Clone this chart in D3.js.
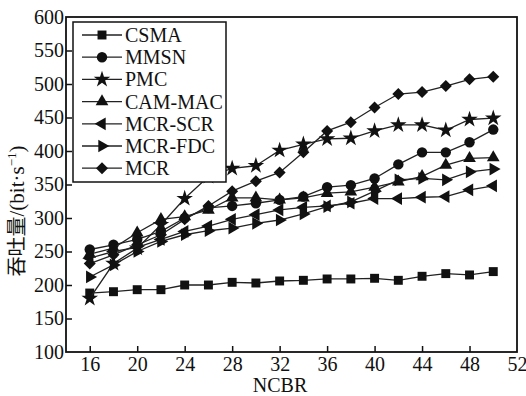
<!DOCTYPE html>
<html>
<head>
<meta charset="utf-8">
<script src="https://cdn.jsdelivr.net/npm/d3@7/dist/d3.min.js"></script>
<style>
  body { margin: 0; background: #fff; }
  text { font-family: "Liberation Serif", "DejaVu Serif", serif; fill: #111; }
</style>
</head>
<body>
<svg id="chart" width="526" height="396"></svg>
<script>
// data
var ncbr = [16, 18, 20, 22, 24, 26, 28, 30, 32, 34, 36, 38, 40, 42, 44, 46, 48, 50];
var seriesNames = ["CSMA", "MMSN", "PMC", "CAM-MAC", "MCR-SCR", "MCR-FDC", "MCR"];
var csma   = [188, 190, 193, 193, 200, 200, 204, 203, 206, 207, 209, 209, 210, 207, 213, 217, 215, 220];
var mmsn   = [253, 260, 268, 280, 300, 315, 318, 322, 327, 332, 346, 349, 359, 380, 398, 398, 413, 432];
var pmc    = [180, 232, 255, 290, 329, 362, 374, 378, 401, 410, 418, 419, 430, 439, 439, 431, 447, 449];
var cammac = [246, 255, 278, 298, 302, 312, 330, 330, 327, 330, 337, 339, 346, 354, 362, 379, 389, 390];
var mcrscr = [240, 250, 256, 268, 280, 288, 298, 305, 312, 316, 318, 322, 329, 329, 331, 332, 342, 348];
var mcrfdc = [212, 230, 250, 265, 275, 281, 285, 292, 297, 306, 317, 324, 340, 357, 359, 357, 369, 373];
var mcr    = [232, 245, 260, 275, 298, 318, 340, 355, 368, 398, 430, 443, 465, 485, 488, 497, 507, 511];
var xTicks = [16, 20, 24, 28, 32, 36, 40, 44, 48, 52];
var yTicks = [100, 150, 200, 250, 300, 350, 400, 450, 500, 550, 600];

var allSeries = [csma, mmsn, pmc, cammac, mcrscr, mcrfdc, mcr];

var pLeft = 66, pRight = 517, pTop = 17, pBottom = 352;

var svg = d3.select("#chart");

var x = d3.scaleLinear().domain([14, 52]).range([pLeft, pRight]);
var y = d3.scaleLinear().domain([100, 600]).range([pBottom, pTop]);

// marker shapes
var sq = d3.symbol().type(d3.symbolSquare).size(80)();
var circ = d3.symbol().type(d3.symbolCircle).size(85)();
var star = d3.symbol().type(d3.symbolStar).size(85)();
var tri = d3.symbol().type(d3.symbolTriangle).size(70)();
var diam = d3.symbol().type(d3.symbolSquare).size(72)();
var shapes = [
  { d: sq, rot: 0 },
  { d: circ, rot: 0 },
  { d: star, rot: 0 },
  { d: tri, rot: 0 },
  { d: tri, rot: -90 },
  { d: tri, rot: 90 },
  { d: diam, rot: 45 }
];

var line = d3.line()
  .x(function(d, i) { return x(ncbr[i]); })
  .y(function(d) { return y(d); });

var plot = svg.append("g");

allSeries.forEach(function(vals, k) {
  plot.append("path")
    .attr("d", line(vals))
    .attr("fill", "none")
    .attr("stroke", "#222")
    .attr("stroke-width", 1.3);
  plot.selectAll(".m" + k)
    .data(vals)
    .enter()
    .append("path")
    .attr("d", shapes[k].d)
    .attr("fill", "#111")
    .attr("transform", function(d, i) {
      return "translate(" + x(ncbr[i]) + "," + y(d) + ") rotate(" + shapes[k].rot + ")";
    });
});

// axes (ticks inward)
var xAxis = d3.axisBottom(x).tickValues(xTicks).tickSizeInner(-6).tickSizeOuter(0).tickPadding(5);
var gx = svg.append("g").attr("transform", "translate(0," + pBottom + ")").call(xAxis);
gx.selectAll(".tick line").filter(function(d) { return d === 52; }).remove();

var yAxis = d3.axisLeft(y).tickValues(yTicks).tickSizeInner(-6).tickSizeOuter(0).tickPadding(2);
var gy = svg.append("g").attr("transform", "translate(" + pLeft + ",0)").call(yAxis);
gy.selectAll(".tick line").filter(function(d) { return d === 100 || d === 600; }).remove();

[gx, gy].forEach(function(g) {
  g.select(".domain").remove();
  g.selectAll("line").attr("stroke", "#111").attr("stroke-width", 1.5);
  g.selectAll("text").attr("font-size", 20).attr("font-family", "Liberation Serif").attr("fill", "#111");
});
gx.selectAll("text").attr("dy", "0.71em");

// frame
svg.append("rect")
  .attr("x", pLeft).attr("y", pTop)
  .attr("width", pRight - pLeft).attr("height", pBottom - pTop)
  .attr("fill", "none").attr("stroke", "#111").attr("stroke-width", 1.8);

// axis titles
svg.append("text")
  .attr("x", 280).attr("y", 392)
  .attr("text-anchor", "middle").attr("font-size", 20)
  .text("NCBR");

var yl = svg.append("text")
  .attr("transform", "translate(24,211) rotate(-90)")
  .attr("text-anchor", "middle").attr("font-size", 21);
yl.append("tspan").attr("font-family", "Noto Sans CJK SC").attr("font-size", 20).text("吞吐量");
yl.append("tspan").text("/(bit·s");
yl.append("tspan").attr("font-size", 13).attr("dy", -8).text("−1");
yl.append("tspan").attr("dy", 8).text(")");

// legend
var lg = svg.append("g");
lg.append("rect")
  .attr("x", 73).attr("y", 22).attr("width", 153).attr("height", 160)
  .attr("fill", "#fff").attr("stroke", "#111").attr("stroke-width", 1.5);

var entry = lg.selectAll(".legend")
  .data(seriesNames)
  .enter()
  .append("g")
  .attr("class", "legend")
  .attr("transform", function(d, i) { return "translate(0," + (35 + i * 22.2) + ")"; });

entry.append("line")
  .attr("x1", 82).attr("x2", 122)
  .attr("stroke", "#222").attr("stroke-width", 1.3);
entry.append("path")
  .attr("d", function(d, i) { return shapes[i].d; })
  .attr("fill", "#111")
  .attr("transform", function(d, i) { return "translate(102,0) rotate(" + shapes[i].rot + ")"; });
entry.append("text")
  .attr("x", 125).attr("y", 7)
  .attr("font-size", 20)
  .text(function(d) { return d; });
</script>
</body>
</html>
